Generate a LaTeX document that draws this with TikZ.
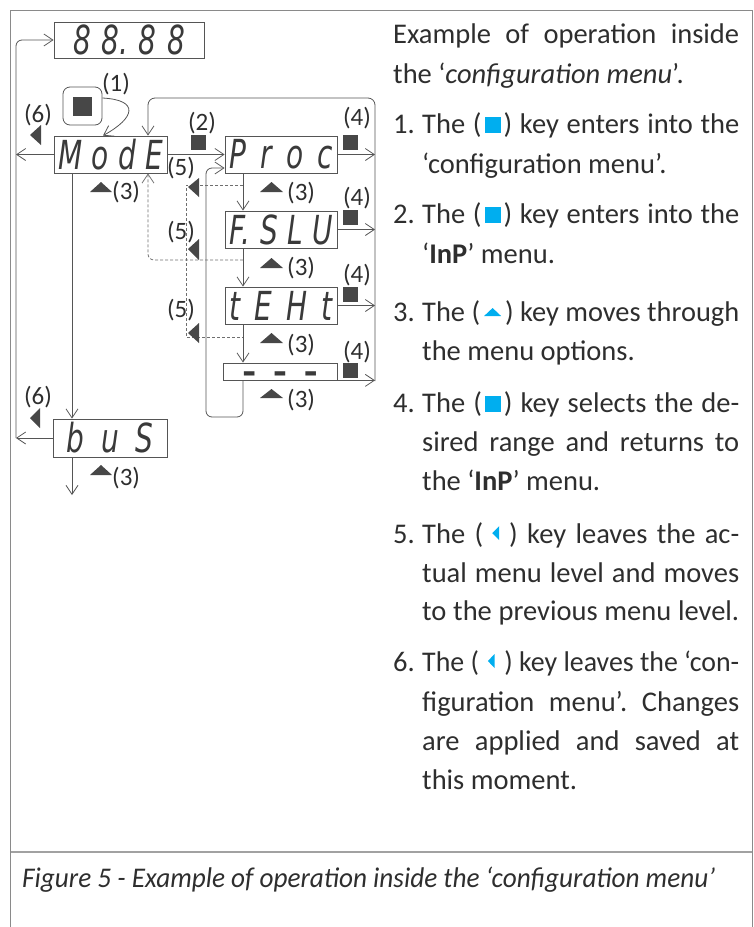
\documentclass[tikz,border=0pt]{standalone}
\usepackage{fontspec}
\setmainfont{Carlito}
\newfontfamily\segfont{DejaVu Sans}
\usetikzlibrary{arrows.meta,calc}
\frenchspacing
\definecolor{ink}{HTML}{2E2E2E}
\definecolor{segink}{HTML}{3A3A3A}
\definecolor{linec}{HTML}{555555}
\definecolor{dashc}{HTML}{6E6E6E}
\definecolor{keyblue}{HTML}{00AEEF}
\definecolor{framec}{HTML}{8A8A8A}
\definecolor{keydark}{HTML}{474747}
\newsavebox\lbox
\newlength\lwd
\newcommand\jl[2]{\sbox\lbox{#2}\setlength\lwd{\wd\lbox}\ifdim\lwd>#1\relax\pgfmathsetmacro\lr{#1/\lwd}\scalebox{\lr}[1]{\usebox\lbox}\else\makebox[#1][s]{#2}\fi}
\newcommand\fitw[2]{\sbox\lbox{#2}\setlength\lwd{\wd\lbox}\pgfmathsetmacro\lr{#1/\lwd}\scalebox{\lr}[1]{\usebox\lbox}}
\newcommand\seg[2]{\scalebox{0.7}[1]{\makebox[#1]{#2}}}
\newcommand\num[1]{\makebox[29pt][l]{#1}}
\newcommand\bsq{\kern3pt\textcolor{keyblue}{\rule{16pt}{16pt}}\kern3pt}
\newcommand\bup{\kern4pt\tikz[baseline=0pt]\fill[keyblue] (0pt,5pt) -- (17pt,5pt) -- (8.5pt,13pt) -- cycle;\kern4pt}
\newcommand\blt{\kern9pt\tikz[baseline=0pt]\fill[keyblue] (0pt,10pt) -- (7pt,3pt) -- (7pt,17pt) -- cycle;\kern10pt}
\tikzset{
  segbox/.style={draw=linec, line width=0.8pt, minimum height=37pt, inner sep=0pt,
    font=\segfont\itshape\fontsize{40}{40}\selectfont, text=segink},
  conn/.style={draw=linec, line width=0.8pt, -{Straight Barb[length=9pt,width=12pt]}},
  dashline/.style={draw=dashc, line width=0.8pt, dash pattern=on 3pt off 2pt},
  lbl/.style={font=\fontsize{25}{25}\selectfont, text=ink, inner sep=0pt},
  txt/.style={anchor=base west, inner sep=0pt, text=ink, font=\fontsize{28.5}{34}\selectfont},
  keyfill/.style={fill=keydark},
  sqk/.style={fill=keydark, minimum size=15pt, inner sep=0pt},
  framestyle/.style={draw=framec, line width=1pt},
  sepstyle/.style={draw=framec!80, line width=2pt},
}
\begin{document}
\begin{tikzpicture}[x=1pt,y=-1pt]
\useasboundingbox (0,0) rectangle (754,927);
% frame
\draw[framestyle] (10.5,927) -- (10.5,10.5) -- (752,10.5) -- (752,927);
\draw[sepstyle] (10.5,852) -- (752,852);

% displays
\node[segbox, minimum width=150pt, minimum height=36pt] (disp) at (129,40) {\seg{160pt}{8\hfill 8.\hfill 8\hfill 8}};
\node[segbox, minimum width=113pt] (mode) at (110.5,154.5) {\seg{150pt}{M\hfill o\hfill d\hfill E}};
\node[segbox, minimum width=112pt] (proc) at (281,154.5) {\seg{148pt}{P\hfill r\hfill o\hfill c}};
\node[segbox, minimum width=112pt] (fslu) at (281,229.5) {\seg{148pt}{F.\hfill S\hfill L\hfill U}};
\node[segbox, minimum width=112pt] (teht) at (281,305.5) {\seg{148pt}{t\hfill E\hfill H\hfill t}};
\node[segbox, minimum width=114pt, minimum height=17pt] (dashd) at (280,371.5) {\raisebox{-11pt}[0pt][0pt]{\fontsize{30}{30}\selectfont\bfseries\upshape\scalebox{1.15}[1]{\makebox[66pt]{-\hfill -\hfill -}}}};
\node[segbox, minimum width=114pt, minimum height=38pt] (bus) at (110,438) {\seg{125pt}{b\hfill u\hfill S}};

% key (1)
\node[draw=linec, line width=0.8pt, rounded corners=7pt, minimum width=39pt, minimum height=38pt, inner sep=0pt] (key1) at (82.5,106) {};
\node[fill=keydark, minimum size=19pt, inner sep=0pt] (key1in) at (key1) {};
\node[lbl] (l1) at (116,84) {(1)};
\draw[conn] ([yshift=8pt]key1.east) .. controls (140,100) and (135,118) .. ([xshift=-7.5pt]mode.north);

% left loop
\coordinate (lft) at (16,154.5);
\coordinate (lbus) at (16,438);
\draw[conn] (mode.west) -- (lft);
\draw[conn] (bus.west) -- (lbus);
\draw[conn, rounded corners=6pt] (lbus) |- (disp.west);

% main flow
\draw[conn] (mode.east) -- (proc.west);
\coordinate (rr) at (375,381);
\draw[conn] (proc.east) -- (proc.east -| rr);
\draw[conn] (fslu.east) -- (fslu.east -| rr);
\draw[conn] (teht.east) -- (teht.east -| rr);
\draw[conn] (dashd.south east) -- (dashd.south east -| rr);
\coordinate (tl) at (148,98);
\draw[conn, rounded corners=7pt] (rr) |- (tl) -- (tl |- mode.north);

\coordinate (cx) at (243,0);
\draw[conn] (proc.south -| cx) -- (fslu.north -| cx);
\draw[conn] (fslu.south -| cx) -- (teht.north -| cx);
\draw[conn] (teht.south -| cx) -- (dashd.north -| cx);
\coordinate (lb) at (206,417);
\coordinate (pin) at ([yshift=-13.5pt]proc.west);
\draw[conn, rounded corners=6pt] (dashd.south -| cx) |- (lb) |- (pin);

\coordinate (mx) at (72,0);
\draw[conn] (mode.south -| mx) -- (bus.north -| mx);
\coordinate (bend) at (72,495);
\draw[conn] (bus.south -| mx) -- (bend);

% dashed returns
\coordinate (da) at (243,185);
\coordinate (db) at (243,337);
\coordinate (dc) at (243,260);
\draw[dashline] (da) -- (186,185) -- (186,337) -- (db);
\draw[dashline, rounded corners=6pt, -{Straight Barb[length=9pt,width=12pt]}] (dc) -| (tl |- mode.south);

% (6)
\node[lbl] (l6a) at (38,115) {(6)};
\fill[keyfill] (30,135) -- (41,125) -- (41,145) -- cycle;
\node[lbl] (l6b) at (38,397) {(6)};
\fill[keyfill] (30,418) -- (40,408) -- (40,428) -- cycle;
% (2)
\node[lbl] (l2) at (202,123) {(2)};
\node[sqk] (s2) at (198.5,142.5) {};
% (4)
\node[lbl] (l4a) at (357,118) {(4)};
\node[sqk] (s4a) at (350.5,142.5) {};
\node[lbl] (l4b) at (357,198) {(4)};
\node[sqk] (s4b) at (350.5,217.5) {};
\node[lbl] (l4c) at (357,275) {(4)};
\node[sqk] (s4c) at (350.5,294) {};
\node[lbl] (l4d) at (357,352) {(4)};
\node[sqk] (s4d) at (350.5,370) {};
% (3)
\fill[keyfill] (90,192) -- (101,182) -- (112,192) -- cycle;
\node[lbl, anchor=west] (l3a) at (112,192) {(3)};
\fill[keyfill] (260,192) -- (271.5,182) -- (283,192) -- cycle;
\node[lbl, anchor=west] (l3b) at (287,193) {(3)};
\fill[keyfill] (260,268) -- (271.5,258) -- (283,268) -- cycle;
\node[lbl, anchor=west] (l3c) at (287,268) {(3)};
\fill[keyfill] (260,343) -- (271.5,333) -- (283,343) -- cycle;
\node[lbl, anchor=west] (l3d) at (287,345) {(3)};
\fill[keyfill] (260,398) -- (271.5,389) -- (283,398) -- cycle;
\node[lbl, anchor=west] (l3e) at (287,400) {(3)};
\fill[keyfill] (90,475) -- (101,465) -- (112,475) -- cycle;
\node[lbl, anchor=west] (l3f) at (112,478) {(3)};
% (5)
\node[lbl] (l5a) at (181,168) {(5)};
\fill[keyfill] (188,187) -- (199,178) -- (199,197) -- cycle;
\node[lbl] (l5b) at (181,232) {(5)};
\fill[keyfill] (188,249) -- (199,239) -- (199,260) -- cycle;
\node[lbl] (l5c) at (181,310) {(5)};
\fill[keyfill] (188,333) -- (199,323) -- (199,343) -- cycle;

% text column
\node[txt] (t1) at (393,43) {\jl{346pt}{Example of operation inside}};
\node[txt] (t2) at (393,83) {the ‘\textit{configuration menu}’.};
\node[txt] (p1a) at (393,133) {\num{1.}\jl{317pt}{The (\bsq) key enters into the}};
\node[txt] (p1b) at (422,173) {‘configuration menu’.};
\node[txt] (p2a) at (393,223) {\num{2.}\jl{317pt}{The (\bsq) key enters into the}};
\node[txt] (p2b) at (422,263) {‘\textbf{InP}’ menu.};
\node[txt] (p3a) at (393,321) {\num{3.}\jl{317pt}{The (\bup) key moves through}};
\node[txt] (p3b) at (422,360) {the menu options.};
\node[txt] (p4a) at (393,412) {\num{4.}\jl{317pt}{The (\bsq) key selects the de-}};
\node[txt] (p4b) at (422,451) {\jl{317pt}{sired range and returns to}};
\node[txt] (p4c) at (422,490) {the ‘\textbf{InP}’ menu.};
\node[txt] (p5a) at (393,543) {\num{5.}\jl{317pt}{The (\blt) key leaves the ac-}};
\node[txt] (p5b) at (422,582) {\jl{317pt}{tual menu level and moves}};
\node[txt] (p5c) at (422,620) {\jl{317pt}{to the previous menu level.}};
\node[txt] (p6a) at (393,671) {\num{6.}\jl{317pt}{The (\blt) key leaves the ‘con-}};
\node[txt] (p6b) at (422,711) {\jl{317pt}{figuration menu’. Changes}};
\node[txt] (p6c) at (422,750) {\jl{317pt}{are applied and saved at}};
\node[txt] (p6d) at (422,789) {this moment.};
\node[txt] (cap) at (22,887) {\fitw{693pt}{\itshape Figure 5 - Example of operation inside the ‘configuration menu’}};
\end{tikzpicture}
\end{document}
